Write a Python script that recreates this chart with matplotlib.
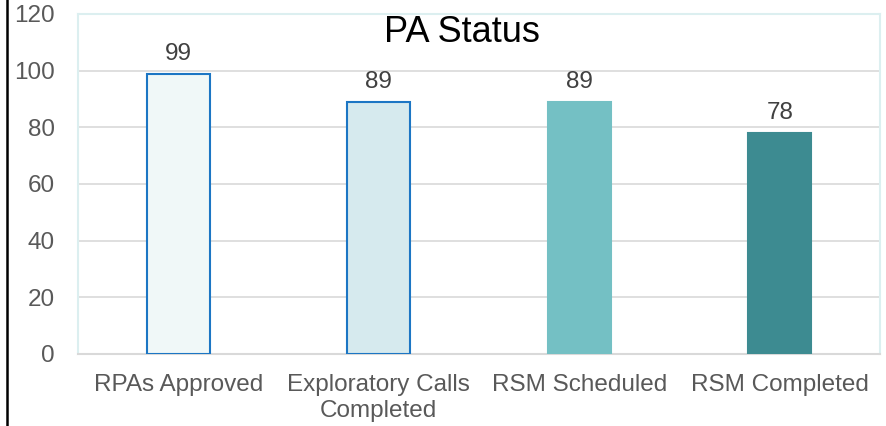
import matplotlib
matplotlib.use("Agg")
import matplotlib.pyplot as plt
from matplotlib.lines import Line2D

# -----------------------------
# DATA
# -----------------------------
categories = ["RPAs Approved", "Exploratory Calls\nCompleted", "RSM Scheduled", "RSM Completed"]
values = [99, 89, 89, 78]
fill_colors = ["#f0f8f8", "#d6eaee", "#74c0c4", "#3d8b91"]
edge_colors = ["#1c76c4", "#1c76c4", "#74c0c4", "#3d8b91"]
y_ticks = [0, 20, 40, 60, 80, 100, 120]

plt.rcParams["font.family"] = ["Liberation Sans", "DejaVu Sans"]

FS = 17.5

fig = plt.figure(figsize=(8.87, 4.26), dpi=100)
ax = fig.add_axes([78 / 887, 1 - 354 / 426, 802 / 887, 340 / 426])

x = list(range(len(categories)))
bars = ax.bar(x, values, width=0.315, color=fill_colors, edgecolor=edge_colors,
              linewidth=1.5, zorder=3)

ax.set_xlim(-0.5, len(categories) - 0.5)
ax.set_ylim(0, 120)
ax.set_yticks(y_ticks)
ax.set_xticks(x)
ax.set_xticklabels(categories, fontsize=FS, color="#595959", linespacing=1.25)
ax.tick_params(axis="y", labelsize=FS, labelcolor="#595959", length=0, pad=16.5)
ax.tick_params(axis="x", length=0, pad=14.5)

ax.grid(axis="y", color="#d9d9d9", linewidth=1.2, zorder=0)
for s in ["left", "top", "right"]:
    ax.spines[s].set_color("#dceff0")
    ax.spines[s].set_linewidth(1.5)
ax.spines["bottom"].set_color("#d9d9d9")
ax.spines["bottom"].set_linewidth(1.5)

for bar, v in zip(bars, values):
    ax.annotate(str(v), (bar.get_x() + bar.get_width() / 2, v),
                xytext=(0, 10), textcoords="offset points",
                ha="center", va="baseline", fontsize=FS, color="#404040")

ax.text(0.479, 0.918, "PA Status", transform=ax.transAxes, ha="center", va="baseline",
        fontsize=26, color="black")

fig.add_artist(Line2D([7 / 887, 7 / 887], [0, 1], color="black", linewidth=1.8))

fig.savefig("out.png", dpi=100)
